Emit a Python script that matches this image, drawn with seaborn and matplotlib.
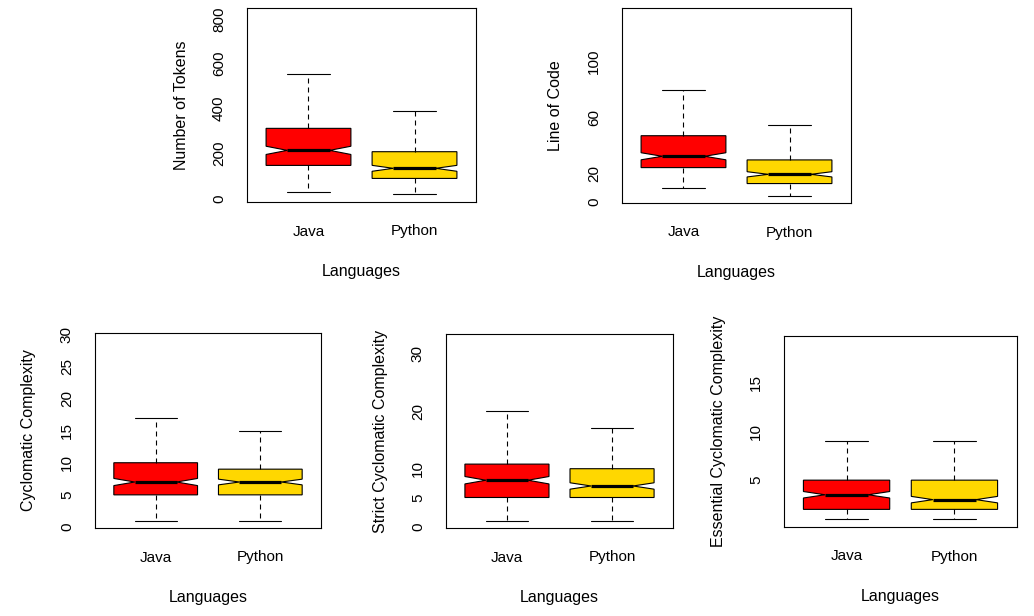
import numpy as np
import pandas as pd
import matplotlib
matplotlib.use("Agg")
import matplotlib.pyplot as plt
import seaborn as sns

languages = ["Java", "Python"]
box_colors = ["#FF0000", "#FFD700"]

# five-number summaries:
# lower whisker, Q1, median, Q3, upper whisker
tokens_java = [27, 147, 214, 312, 553]
tokens_python = [18, 89, 134, 208, 390]
loc_java = [10, 24.3, 32.4, 47.1, 80]
loc_python = [4.3, 12.9, 19.5, 29.8, 55]
cc_java = [1, 5, 7, 10, 17]
cc_python = [1, 5, 7, 9, 15]
scc_java = [1, 5, 8, 10.8, 20]
scc_python = [1, 5, 7, 10, 17]
ecc_java = [1, 2, 3.5, 5, 9]
ecc_python = [1, 2, 3, 5, 9]

# each summary value stands for this many methods (~200 per language),
# which is what sets the notch width
obs_per_stat = 40

sns.set_style("white", {"axes.edgecolor": "black", "text.color": "black",
                        "axes.labelcolor": "black", "xtick.color": "black",
                        "ytick.color": "black"})
plt.rcParams["font.family"] = ["Liberation Sans", "DejaVu Sans"]
plt.rcParams["font.size"] = 11

W, H = 1034, 616
fig = plt.figure(figsize=(W / 100, H / 100), dpi=100)


def add_panel(box_px, java, python, ylabel, ylim, yticks, yticklabels):
    left, top, right, bottom = box_px
    w, h = right - left, bottom - top
    ax = fig.add_axes([left / W, 1 - bottom / H, w / W, h / H])
    df = pd.DataFrame({
        "Language": np.repeat(languages, 5 * obs_per_stat),
        "Value": np.concatenate([np.repeat(java, obs_per_stat),
                                 np.repeat(python, obs_per_stat)]),
    })
    sns.boxplot(data=df, x="Language", y="Value", hue="Language",
                order=languages, hue_order=languages, palette=box_colors,
                saturation=1, legend=False, width=0.8, whis=(0, 100),
                notch=True, linecolor="black", linewidth=0.8,
                medianprops=dict(linewidth=2.3),
                whiskerprops=dict(linestyle=(0, (4.5, 3.6))),
                ax=ax)
    ax.set_xlim(-0.58, 1.58)
    ax.set_ylim(*ylim)
    ax.set_yticks(yticks)
    ax.set_yticklabels(yticklabels, rotation=90, va="center")
    ax.tick_params(axis="both", direction="out", length=7.2, width=0.75,
                   labelsize=11)
    ax.tick_params(axis="x", pad=9)
    ax.tick_params(axis="y", pad=8)
    for sp in ax.spines.values():
        sp.set_visible(True)
        sp.set_linewidth(0.8)
        sp.set_color("black")
    ax.set_xlabel("Languages", fontsize=11.5, va="center")
    ax.xaxis.set_label_coords(0.5, -69.5 / h)
    ax.set_ylabel(ylabel, fontsize=11.5, va="center", ha="center")
    ax.yaxis.set_label_coords(-66 / w, 0.5)
    return ax


add_panel((247, 8, 476, 202), tokens_java, tokens_python, "Number of Tokens",
          (-16, 848), [0, 200, 400, 600, 800], ["0", "200", "400", "600", "800"])
add_panel((622, 8, 851, 203), loc_java, loc_python, "Line of Code",
          (-1, 138.4), [0, 20, 40, 60, 80, 100, 120],
          ["0", "20", "", "60", "", "100", ""])
add_panel((95, 333, 321, 528), cc_java, cc_python, "Cyclomatic Complexity",
          (-0.16, 30.2), [0, 5, 10, 15, 20, 25, 30],
          ["0", "5", "10", "15", "20", "25", "30"])
add_panel((446, 334, 673, 528), scc_java, scc_python, "Strict Cyclomatic Complexity",
          (-0.3, 33.4), [0, 5, 10, 15, 20, 25, 30],
          ["0", "5", "10", "", "20", "", "30"])
add_panel((784, 336, 1017, 527), ecc_java, ecc_python, "Essential Cyclomatic Complexity",
          (0.19, 19.8), [5, 10, 15], ["5", "10", "15"])

fig.savefig("out.png", dpi=100, facecolor="white")
